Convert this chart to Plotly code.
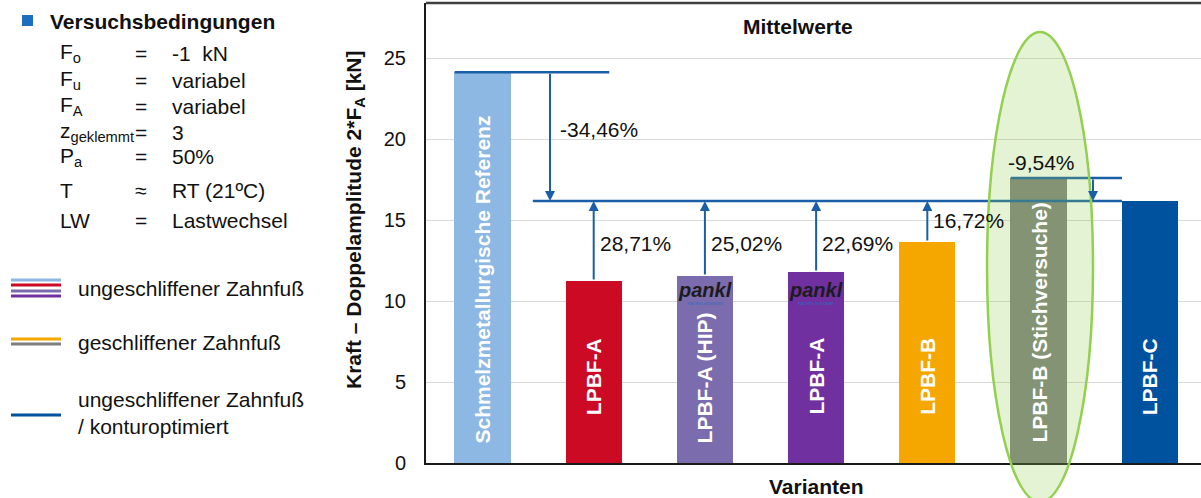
import plotly.graph_objects as go

# ---------------- data ----------------
categories = ["Schmelzmetallurgische Referenz", "LPBF-A", "LPBF-A (HIP)", "LPBF-A ",
              "LPBF-B", "LPBF-B (Stichversuche)", "LPBF-C"]
bar_labels = ["Schmelzmetallurgische Referenz", "LPBF-A", "LPBF-A (HIP)", "LPBF-A",
              "LPBF-B", "LPBF-B (Stichversuche)", "LPBF-C"]
values = [24.13, 11.23, 11.54, 11.79, 13.64, 17.59, 16.17]
bar_colors = ["#8DB8E3", "#CC0A24", "#7A6CAD", "#7030A0", "#F5A700", "#7F7F7F", "#00519E"]
ref_value = 16.17
pct_ref = "-34,46%"
pct_up = ["28,71%", "25,02%", "22,69%", "16,72%"]
pct_stich = "-9,54%"
y_ticks = [0, 5, 10, 15, 20, 25]

cond_sym = ["F<sub>o</sub>", "F<sub>u</sub>", "F<sub>A</sub>", "z<sub>geklemmt</sub>",
            "P<sub>a</sub>", "T", "LW"]
cond_op = ["=", "=", "=", "=", "=", "≈", "="]
cond_val = ["-1  kN", "variabel", "variabel", "3", "50%", "RT (21ºC)", "Lastwechsel"]

legend_groups = [
    (["#8DB8E3", "#CC0A24", "#7A6CAD", "#7030A0"], "ungeschliffener Zahnfuß"),
    (["#F5A700", "#7F7F7F"], "geschliffener Zahnfuß"),
    (["#00519E"], "ungeschliffener Zahnfuß<br>/ konturoptimiert"),
]

# ---------------- geometry helpers ----------------
W, H = 1201, 498
ML, MR, MT, MB = 426, 0, 3, 35
PW, PH = W - ML - MR, H - MT - MB
XR = [-0.508, 6.461]
YR = [0, 28.4]
FONT = "Liberation Sans, Arial, sans-serif"
ARROW = "#1A5EA8"


def px_x(px):
    return (px - ML) / PW


def px_y(py):
    return (H - MB - py) / PH


def dx2p(x):
    return (x - XR[0]) / (XR[1] - XR[0])


xi = list(range(len(categories)))

fig = go.Figure()
fig.add_trace(go.Bar(x=xi, y=values, marker=dict(color=bar_colors, line=dict(width=0)),
                     width=0.505, hoverinfo="skip"))

shapes = []
ann = []

# plot frame top
shapes.append(dict(type="line", xref="paper", yref="paper", x0=0, x1=1, y0=1, y1=1,
                   line=dict(color="#404040", width=2.5)))

# reference lines
shapes.append(dict(type="line", xref="x", yref="y", x0=-0.25, x1=1.14, y0=values[0], y1=values[0],
                   line=dict(color=ARROW, width=2.5)))
shapes.append(dict(type="line", xref="x", yref="y", x0=0.453, x1=5.75, y0=ref_value, y1=ref_value,
                   line=dict(color=ARROW, width=2.5)))
shapes.append(dict(type="line", xref="x", yref="y", x0=4.75, x1=5.75, y0=values[5], y1=values[5],
                   line=dict(color=ARROW, width=2.5)))


def arrow(x, y_from, y_to):
    ann.append(dict(x=x, y=y_to, ax=x, ay=y_from, xref="x", yref="y", axref="x", ayref="y",
                    text="", showarrow=True, arrowhead=2, arrowsize=1.0, arrowwidth=2,
                    arrowcolor=ARROW))


arrow(0.607, values[0], ref_value)
for i in range(1, 5):
    arrow(i, values[i], ref_value)
arrow(5.49, values[5], ref_value)

pct_font = dict(family=FONT, size=21, color="#111111")
ann.append(dict(x=0.607, y=20.56, xref="x", yref="y", text=pct_ref, showarrow=False,
                xanchor="left", yanchor="middle", xshift=8, font=pct_font))
pct_y = [13.58, 13.58, 13.58, 15.0]
for i, t in enumerate(pct_up):
    ann.append(dict(x=i + 1, y=pct_y[i], xref="x", yref="y", text=t, showarrow=False,
                    xanchor="left", yanchor="middle", xshift=4, font=pct_font))
ann.append(dict(x=5.03, y=values[5], xref="x", yref="y", text=pct_stich, showarrow=False,
                xanchor="center", yanchor="bottom", yshift=2, font=pct_font))

# bar labels (rotated)
label_base = [1.11, 2.84, 1.11, 2.84, 2.84, 1.11, 2.84]
for i, t in enumerate(bar_labels):
    ann.append(dict(x=i, y=label_base[i], xref="x", yref="y", text="<b>" + t + "</b>",
                    textangle=-90, showarrow=False, xanchor="center", yanchor="bottom",
                    font=dict(family=FONT, size=21, color="white")))

# pankl logos
for i in (2, 3):
    ann.append(dict(x=i, y=10.7, xref="x", yref="y", text="<b><i>pankl</i></b>", showarrow=False,
                    xanchor="center", yanchor="middle",
                    font=dict(family=FONT, size=20, color="#1c1c1c")))
    ann.append(dict(x=i, y=10.7, xref="x", yref="y", text="RACING SYSTEMS", showarrow=False,
                    xanchor="center", yanchor="top",
                    yshift=-9, font=dict(family=FONT, size=4, color="#2a6fc0")))

# green ellipse
shapes.append(dict(type="circle", xref="paper", yref="paper", layer="above",
                   x0=dx2p(4.537), x1=dx2p(5.49), y0=px_y(502), y1=px_y(32),
                   fillcolor="rgba(146,208,80,0.25)", line=dict(color="#92D050", width=2.5)))

# titles
tf = dict(family=FONT, size=21, color="#111111")
ann.append(dict(x=px_x(798), y=px_y(26), xref="paper", yref="paper", text="<b>Mittelwerte</b>",
                xanchor="center", yanchor="middle", showarrow=False, font=tf))
ann.append(dict(x=px_x(816), y=px_y(487), xref="paper", yref="paper", text="<b>Varianten</b>",
                xanchor="center", yanchor="middle", showarrow=False, font=tf))
ann.append(dict(x=px_x(355), y=px_y(220), xref="paper", yref="paper", textangle=-90,
                xanchor="center", yanchor="middle",
                text="<b>Kraft – Doppelamplitude 2*F<sub>A</sub> [kN]</b>",
                showarrow=False, font=tf))

# left panel: conditions
shapes.append(dict(type="rect", xref="paper", yref="paper", x0=px_x(22), x1=px_x(33),
                   y0=px_y(26), y1=px_y(15), fillcolor="#1E6EBF", line=dict(width=0)))
ann.append(dict(x=px_x(48), y=px_y(21), xref="paper", yref="paper", xanchor="left",
                yanchor="middle", text="<b>Versuchsbedingungen</b>", showarrow=False,
                font=dict(family=FONT, size=21, color="#111111")))
row_y = [53, 80, 106, 132, 157, 190, 220]
cf = dict(family=FONT, size=21, color="#111111")
for s, o, v, ry in zip(cond_sym, cond_op, cond_val, row_y):
    for px, t in ((58, s), (133, o), (170, v)):
        ann.append(dict(x=px_x(px), y=px_y(ry), xref="paper", yref="paper", xanchor="left",
                        yanchor="middle", text=t, showarrow=False, font=cf))

# left panel: legend
leg_line_y = [[280, 285, 291, 296], [339, 344], [415]]
leg_text_y = [288, 342, 413]
for (cols, txt), ly, ty in zip(legend_groups, leg_line_y, leg_text_y):
    for c, y in zip(cols, ly):
        shapes.append(dict(type="line", xref="paper", yref="paper", x0=px_x(11), x1=px_x(61),
                           y0=px_y(y), y1=px_y(y), line=dict(color=c, width=3)))
    ann.append(dict(x=px_x(76), y=px_y(ty), xref="paper", yref="paper", xanchor="left",
                    yanchor="middle", align="left", text=txt, showarrow=False, font=cf))

fig.update_layout(
    width=W, height=H, margin=dict(l=ML, r=MR, t=MT, b=MB),
    paper_bgcolor="white", plot_bgcolor="white", showlegend=False,
    shapes=shapes, annotations=ann, bargap=0,
    xaxis=dict(range=XR, showticklabels=False, showgrid=False, zeroline=False,
               showline=True, linecolor="#1a1a1a", linewidth=2, ticks=""),
    yaxis=dict(range=YR, tickvals=y_ticks, showgrid=True, gridcolor="#D9D9D9", gridwidth=1,
               zeroline=False, showline=True, linecolor="#1a1a1a", linewidth=2,
               ticks="", ticklabelstandoff=14,
               tickfont=dict(family=FONT, size=20, color="#111111")),
)

fig.write_html("out.html")
